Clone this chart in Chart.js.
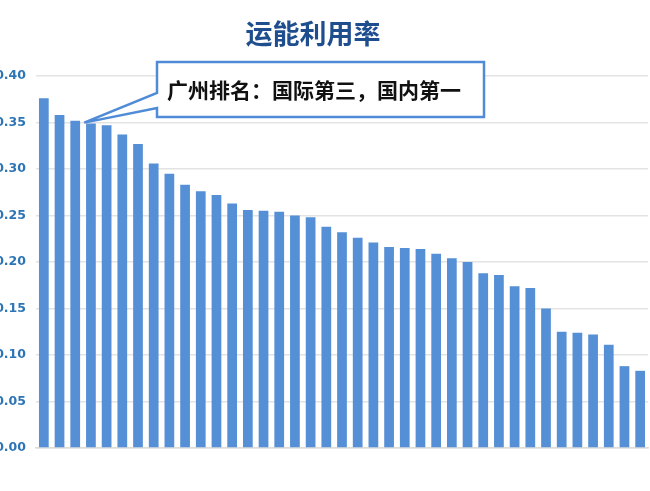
<!DOCTYPE html>
<html>
<head>
<meta charset="utf-8">
<script src="https://cdn.jsdelivr.net/npm/chart.js@4/dist/chart.umd.min.js"></script>
<style>
    html, body { margin: 0; padding: 0; background: #fff; overflow: hidden; }
    #wrap { position: absolute; left: -8px; top: 0; width: 658px; height: 491px; }
</style>
</head>
<body>
<div id="wrap"><canvas id="chartCanvas"></canvas></div>
<script>
// 39 cities, sorted by capacity utilisation (no names shown on the axis)
const labels = [];
for (let i = 1; i <= 39; i++) labels.push('城市' + i);

const utilisation = [
    0.376, 0.358, 0.352, 0.349, 0.347, 0.337, 0.327, 0.306, 0.295, 0.283,
    0.276, 0.272, 0.263, 0.256, 0.255, 0.254, 0.250, 0.248, 0.238, 0.232,
    0.226, 0.221, 0.216, 0.215, 0.214, 0.209, 0.204, 0.200, 0.188, 0.186,
    0.174, 0.172, 0.150, 0.125, 0.124, 0.122, 0.111, 0.088, 0.083
];

const chartTitle = '运能利用率';
const calloutText = '广州排名：国际第三，国内第一';
const calloutIndex = 2;

const calloutPlugin = {
    id: 'callout',
    afterDraw(chart) {
        const ctx = chart.ctx;
        const bar = chart.getDatasetMeta(0).data[calloutIndex];
        const tipX = bar.x + 9;
        const tipY = bar.y + 2;

        ctx.save();
        // title
        ctx.fillStyle = '#1F4E8F';
        ctx.font = 'bold 27px "Noto Sans CJK SC"';
        ctx.textAlign = 'center';
        ctx.textBaseline = 'middle';
        ctx.fillText(chartTitle, 321, 34);

        // box with a pointer
        const l = 165, t = 62, r = 492, b = 117;
        ctx.beginPath();
        ctx.moveTo(l, t);
        ctx.lineTo(r, t);
        ctx.lineTo(r, b);
        ctx.lineTo(l, b);
        ctx.lineTo(l, 108);
        ctx.lineTo(tipX, tipY);
        ctx.lineTo(l, 93);
        ctx.closePath();
        ctx.fillStyle = '#fff';
        ctx.fill();
        ctx.lineWidth = 2.5;
        ctx.lineJoin = 'miter';
        ctx.strokeStyle = '#4F8BD6';
        ctx.stroke();

        ctx.fillStyle = '#111';
        ctx.font = 'bold 21px "Noto Sans CJK SC"';
        ctx.textAlign = 'left';
        ctx.fillText(calloutText, 175, 90);
        ctx.restore();
    }
};

new Chart(document.getElementById('chartCanvas'), {
    type: 'bar',
    data: {
        labels: labels,
        datasets: [{
            data: utilisation,
            backgroundColor: '#5590D6',
            barPercentage: 0.62,
            categoryPercentage: 1.0
        }]
    },
    options: {
        responsive: true,
        maintainAspectRatio: false,
        animation: false,
        layout: { padding: { left: 4, right: 2, top: 76, bottom: 35 } },
        plugins: {
            legend: { display: false },
            tooltip: { enabled: false }
        },
        scales: {
            x: {
                grid: { display: false },
                ticks: { display: false },
                border: { display: true, color: '#DCDCDC', width: 1.5 }
            },
            y: {
                min: 0,
                max: 0.4,
                afterFit: s => { s.width = 40; },
                ticks: {
                    stepSize: 0.05,
                    padding: 10,
                    color: '#2E75B6',
                    font: { family: 'DejaVu Sans', weight: 'bold', size: 12.5 },
                    callback: v => v.toFixed(2)
                },
                grid: { color: '#E3E3E3', lineWidth: 1.5, drawTicks: false },
                border: { display: false }
            }
        }
    },
    plugins: [calloutPlugin]
});
</script>
</body>
</html>
